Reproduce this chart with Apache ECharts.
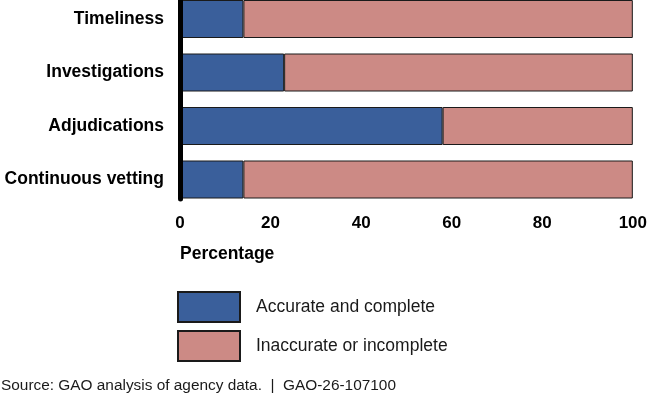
<!DOCTYPE html>
<html><head><meta charset="utf-8">
<script src="https://cdn.jsdelivr.net/npm/echarts@6/dist/echarts.min.js"></script>
<style>html,body{margin:0;padding:0;background:#fff}#c{width:650px;height:397px}</style>
</head><body><div id="c"></div>
<script>
var categories = ['Timeliness', 'Investigations', 'Adjudications', 'Continuous vetting'];
var accurate = [14, 23, 58, 14];
var inaccurate = [86, 77, 42, 86];
var seriesNames = ['Accurate and complete', 'Inaccurate or incomplete'];
var xTicks = [0, 20, 40, 60, 80, 100];

var FONT = 'Arial, "Liberation Sans", sans-serif';
var chart = echarts.init(document.getElementById('c'), null, {renderer: 'canvas'});
chart.setOption({
  animation: false,
  textStyle: {fontFamily: FONT},
  grid: [
    {left: 180, width: 453, top: 19, height: 160.5, containLabel: false},
    {left: 180, width: 453, top: 0, height: 199, containLabel: false}
  ],
  xAxis: [{
    type: 'value', min: xTicks[0], max: xTicks[xTicks.length - 1], interval: 20,
    axisLine: {show: false}, axisTick: {show: false}, splitLine: {show: false},
    axisLabel: {fontSize: 17, fontWeight: 'bold', color: '#000', margin: 35, fontFamily: FONT}
  }, {
    gridIndex: 1, type: 'value', show: false, min: 0, max: 100
  }],
  yAxis: [{
    type: 'category', data: categories, inverse: true, boundaryGap: false,
    axisLine: {show: false}, axisTick: {show: false}, splitLine: {show: false},
    axisLabel: {fontSize: 17.5, fontWeight: 'bold', color: '#000', margin: 16, fontFamily: FONT}
  }, {
    gridIndex: 1, type: 'category', data: categories, inverse: true, z: 10,
    axisLine: {show: true, lineStyle: {color: '#000', width: 5}},
    axisTick: {show: false}, axisLabel: {show: false}, splitLine: {show: false}
  }],
  legend: {
    orient: 'vertical', left: 172, top: 286, itemWidth: 62, itemHeight: 30, itemGap: 7,
    icon: 'rect',
    textStyle: {fontSize: 17.5, color: '#1a1a1a', fontFamily: FONT, padding: [0, 0, 0, 11]},
    data: seriesNames
  },
  graphic: [
    {type: 'text', left: 180, top: 245, style: {text: 'Percentage', fontSize: 17.5, fontWeight: 'bold', fill: '#000', fontFamily: FONT}},
    {type: 'text', left: 1, top: 378, style: {text: 'Source: GAO analysis of agency data.  |  GAO-26-107100', fontSize: 15.4, fill: '#1a1a1a', fontFamily: FONT}}
  ],
  series: [{
    name: seriesNames[0], type: 'bar', stack: 'total', data: accurate, barWidth: 38, clip: false,
    itemStyle: {color: '#3a5f9b', borderColor: '#1a1a1a', borderWidth: 1}
  }, {
    name: seriesNames[1], type: 'bar', stack: 'total', data: inaccurate, barWidth: 38, clip: false,
    itemStyle: {color: '#cc8a85', borderColor: '#1a1a1a', borderWidth: 1}
  }]
});
</script></body></html>
